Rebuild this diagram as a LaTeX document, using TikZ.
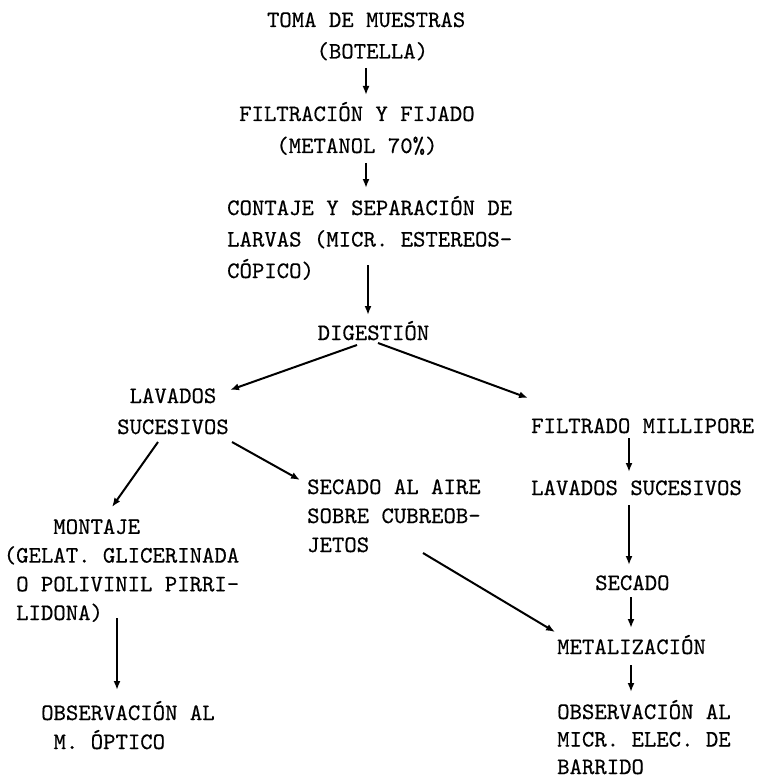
\documentclass[tikz,border=0pt]{standalone}
\usepackage{fontspec}
\newfontfamily\tw{lmmono10-regular.otf}[FakeBold=0.4]
\usetikzlibrary{arrows.meta}
\tikzset{texto/.style={font=\tw\fontsize{23.6}{#1}\selectfont,inner sep=0pt,anchor=base west,align=left},
	 texto/.default=30,
	 flecha/.style={-{Latex[length=9pt,width=7pt]},line width=2pt}
	 }

\begin{document}
\begin{tikzpicture}[x=1pt,y=-1pt] % esquema de muestreo
	\useasboundingbox (0,0) rectangle (759,778);
	\node[texto=31.5] (toma) at (266.8,58.5) {TOMA DE MUESTRAS\\\hphantom{OOOO}(BOTELLA)};
	\node[texto=32] (filt) at (239,153) {FILTRACIÓN Y FIJADO\\\hphantom{OOO}(METANOL 70\%)};
	\node[texto=31.5] (cont) at (227,278) {CONTAJE Y SEPARACIÓN DE\\LARVAS (MICR. ESTEREOS-\\CÓPICO)};
	\node[texto] (dig) at (317.5,340) {DIGESTIÓN};
	\node[texto=31] (lav) at (117,434) {\hphantom{O}LAVADOS\\SUCESIVOS};
	\node[texto] (mill) at (531,433) {FILTRADO MILLIPORE};
	\node[texto=29] (aire) at (307,552) {SECADO AL AIRE\\SOBRE CUBREOB-\\JETOS};
	\node[texto] (lavb) at (531,495) {LAVADOS SUCESIVOS};
	\node[texto=28.7] (mont) at (3.6,620) {\hphantom{OOOO}MONTAJE\\(GELAT. GLICERINADA\\\hphantom{O}O POLIVINIL PIRRI-\\\hphantom{O}LIDONA)};
	\node[texto] (seca) at (595,590) {SECADO};
	\node[texto] (metal) at (557,654) {METALIZACIÓN};
	\node[texto=29] (obsa) at (41,749) {OBSERVACIÓN AL\\\hphantom{O}M. ÓPTICO};
	\node[texto=27.5] (obsb) at (557,774) {OBSERVACIÓN AL\\MICR. ELEC. DE\\BARRIDO};
	\draw[flecha] ([shift={(99.2,9.5)}]toma.base west) -- ([shift={(127,-58)}]filt.base west);
	\draw[flecha] ([shift={(127,10)}]filt.base west) -- ([shift={(139,-90)}]cont.base west);
	\draw[flecha] ([shift={(141,-13)}]cont.base west) -- ([shift={(50.5,-25)}]dig.base west);
	\draw[flecha] ([shift={(39.5,5)}]dig.base west) -- ([shift={(113,-44)}]lav.base west);
	\draw[flecha] ([shift={(60.5,3)}]dig.base west) -- ([shift={(-3,-35)}]mill.base west);
	\draw[flecha] ([shift={(41,8)}]lav.base west) -- ([shift={(108.4,-113)}]mont.base west);
	\draw[flecha] ([shift={(115,8)}]lav.base west) -- ([shift={(-7,-72)}]aire.base west);
	\draw[flecha] ([shift={(98,5)}]mill.base west) -- ([shift={(98,-23)}]lavb.base west);
	\draw[flecha] ([shift={(98,10)}]lavb.base west) -- ([shift={(34,-25)}]seca.base west);
	\draw[flecha] ([shift={(36,7)}]seca.base west) -- ([shift={(74,-26)}]metal.base west);
	\draw[flecha] ([shift={(74,11)}]metal.base west) -- ([shift={(74,-82)}]obsb.base west);
	\draw[flecha] ([shift={(116,1)}]aire.base west) -- ([shift={(-2,-22)}]metal.base west);
	\draw[flecha] ([shift={(113.4,-2)}]mont.base west) -- ([shift={(76,-59)}]obsa.base west);
\end{tikzpicture}
\end{document}
